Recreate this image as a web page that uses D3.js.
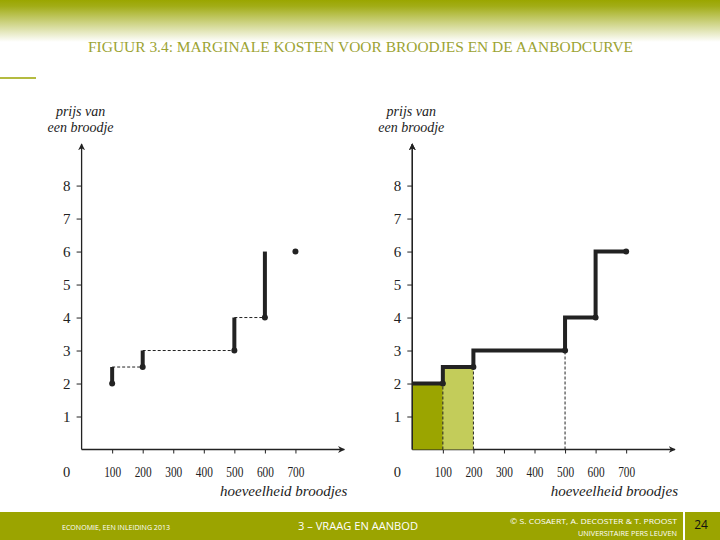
<!DOCTYPE html>
<html>
<head>
<meta charset="utf-8">
<script src="https://cdn.jsdelivr.net/npm/d3@7"></script>
<style>
  body { margin: 0; background: #fff; }
  svg { display: block; }
</style>
</head>
<body>
<div id="graph"></div>
<script>
// data
var quantities = [100, 200, 500, 600, 700];
var marginalCost = [2, 2.5, 3, 4, 6];
var xTickValues = [100, 200, 300, 400, 500, 600, 700];
var yTickValues = [1, 2, 3, 4, 5, 6, 7, 8];
var titleText = "FIGUUR 3.4: MARGINALE KOSTEN VOOR BROODJES EN DE AANBODCURVE";
var yLabelLines = ["prijs van", "een broodje"];
var xLabel = "hoeveelheid broodjes";

var svgWidth = 720, svgHeight = 540;
var olive = "#9ba400";
var ink = "#222";
var serif = "'Liberation Serif', 'DejaVu Serif', serif";

var svg = d3.select("#graph").append("svg")
  .attr("width", svgWidth)
  .attr("height", svgHeight);

var defs = svg.append("defs");
var grad = defs.append("linearGradient")
  .attr("id", "topfade").attr("x1", 0).attr("y1", 0).attr("x2", 0).attr("y2", 1);
grad.append("stop").attr("offset", "0%").attr("stop-color", "#9aa600");
grad.append("stop").attr("offset", "15%").attr("stop-color", "#a2ad17");
grad.append("stop").attr("offset", "100%").attr("stop-color", "#ffffff");

defs.append("marker")
  .attr("id", "arrow")
  .attr("viewBox", "0 0 10 10")
  .attr("refX", 9).attr("refY", 5)
  .attr("markerWidth", 7).attr("markerHeight", 7)
  .attr("markerUnits", "userSpaceOnUse")
  .attr("orient", "auto")
  .append("path")
  .attr("d", "M0,0 L10,5 L0,10 L3,5 Z")
  .attr("fill", ink);

// header
svg.append("rect").attr("x", 0).attr("y", 0).attr("width", svgWidth).attr("height", 42)
  .attr("fill", "url(#topfade)");

svg.append("text")
  .attr("x", 88).attr("y", 52)
  .attr("textLength", 545).attr("lengthAdjust", "spacingAndGlyphs")
  .attr("font-family", serif).attr("font-size", 14.5)
  .attr("fill", "#9ca332")
  .text(titleText);

svg.append("line").attr("x1", 0).attr("x2", 36).attr("y1", 78).attr("y2", 78)
  .attr("stroke", olive).attr("stroke-width", 1.5);

// footer
var footer = svg.append("g");
footer.append("rect").attr("x", 0).attr("y", 512).attr("width", svgWidth).attr("height", 28)
  .attr("fill", olive);
footer.append("line").attr("x1", 684).attr("x2", 684).attr("y1", 512).attr("y2", 540)
  .attr("stroke", "#fff").attr("stroke-width", 2);
footer.append("text").attr("x", 116).attr("y", 530).attr("text-anchor", "middle")
  .attr("font-family", "'Open Sans', sans-serif").attr("font-size", 7)
  .attr("textLength", 108).attr("lengthAdjust", "spacingAndGlyphs")
  .attr("fill", "#fff").text("ECONOMIE, EEN INLEIDING 2013");
footer.append("text").attr("x", 358).attr("y", 530).attr("text-anchor", "middle")
  .attr("font-family", "'Open Sans', sans-serif").attr("font-size", 11)
  .attr("textLength", 120).attr("lengthAdjust", "spacingAndGlyphs")
  .attr("fill", "#fff").text("3 – VRAAG EN AANBOD");
footer.append("text").attr("x", 677).attr("y", 524).attr("text-anchor", "end")
  .attr("font-family", "'Open Sans', sans-serif").attr("font-size", 6.5)
  .attr("textLength", 167).attr("lengthAdjust", "spacingAndGlyphs")
  .attr("fill", "#fff").text("© S. COSAERT, A. DECOSTER & T. PROOST");
footer.append("text").attr("x", 677).attr("y", 536).attr("text-anchor", "end")
  .attr("font-family", "'Open Sans', sans-serif").attr("font-size", 6.5)
  .attr("textLength", 99).attr("lengthAdjust", "spacingAndGlyphs")
  .attr("fill", "#fff").text("UNIVERSITAIRE PERS LEUVEN");
footer.append("text").attr("x", 701).attr("y", 529).attr("text-anchor", "middle")
  .attr("font-family", "'Open Sans', sans-serif").attr("font-size", 12)
  .attr("fill", "#111").text("24");

// shared vertical scale
var yScale = d3.scaleLinear().domain([0, 9.26]).range([449.5, 144]);

function drawPanel(originX) {
  var xScale = d3.scaleLinear().domain([0, 860]).range([originX, originX + 860 * 0.3055]);
  var g = svg.append("g");

  var xAxis = d3.axisBottom(xScale)
    .tickValues(xTickValues)
    .tickSizeInner(4).tickSizeOuter(0)
    .tickPadding(13);
  var gx = g.append("g").attr("transform", "translate(0," + yScale(0) + ")").call(xAxis);
  gx.select(".domain").remove();
  gx.selectAll("line").attr("stroke", ink);
  gx.selectAll("text")
    .attr("font-family", serif).attr("font-size", 14.5).attr("fill", ink)
    .attr("textLength", 17).attr("lengthAdjust", "spacingAndGlyphs");

  var yAxis = d3.axisLeft(yScale)
    .tickValues(yTickValues)
    .tickSizeInner(5).tickSizeOuter(0)
    .tickPadding(6);
  var gy = g.append("g").attr("transform", "translate(" + xScale(0) + ",0)").call(yAxis);
  gy.select(".domain").remove();
  gy.selectAll("line").attr("stroke", ink);
  gy.selectAll("text").attr("font-family", serif).attr("font-size", 15).attr("fill", ink);

  // axis lines with arrows
  g.append("line")
    .attr("x1", xScale(0)).attr("x2", xScale(860))
    .attr("y1", yScale(0)).attr("y2", yScale(0))
    .attr("stroke", ink).attr("stroke-width", 1.3).attr("marker-end", "url(#arrow)");
  g.append("line")
    .attr("x1", xScale(0)).attr("x2", xScale(0))
    .attr("y1", yScale(0)).attr("y2", yScale(9.26))
    .attr("stroke", ink).attr("stroke-width", 1.3).attr("marker-end", "url(#arrow)");

  // origin label
  g.append("text")
    .attr("x", xScale(0) - 15).attr("y", yScale(0) + 17).attr("dy", "0.71em")
    .attr("text-anchor", "middle")
    .attr("font-family", serif).attr("font-size", 14.5).attr("fill", ink)
    .text("0");

  // axis titles
  g.selectAll(".ylab").data(yLabelLines).enter().append("text")
    .attr("x", xScale(0) - 1)
    .attr("y", function(d, i) { return 116 + i * 16; })
    .attr("text-anchor", "middle")
    .attr("font-family", serif).attr("font-style", "italic").attr("font-size", 14)
    .attr("fill", ink)
    .text(function(d) { return d; });

  g.append("text")
    .attr("x", xScale(860) + 3).attr("y", 496)
    .attr("text-anchor", "end")
    .attr("font-family", serif).attr("font-style", "italic").attr("font-size", 15)
    .attr("fill", ink)
    .text(xLabel);

  return { g: g, x: xScale };
}

// left panel: marginal cost points
var left = drawPanel(81.6);
var idx = d3.range(quantities.length - 1);

left.g.selectAll(".dash").data(idx.slice(0, 3)).enter().append("line")
  .attr("x1", function(i) { return left.x(quantities[i]); })
  .attr("x2", function(i) { return left.x(quantities[i + 1]); })
  .attr("y1", function(i) { return yScale(marginalCost[i + 1]); })
  .attr("y2", function(i) { return yScale(marginalCost[i + 1]); })
  .attr("stroke", ink).attr("stroke-width", 1).attr("stroke-dasharray", "3,2");

left.g.selectAll(".jump").data(idx).enter().append("line")
  .attr("x1", function(i) { return left.x(quantities[i]); })
  .attr("x2", function(i) { return left.x(quantities[i]); })
  .attr("y1", function(i) { return yScale(marginalCost[i]); })
  .attr("y2", function(i) { return yScale(marginalCost[i + 1]); })
  .attr("stroke", ink).attr("stroke-width", 4);

left.g.selectAll(".dot").data(quantities).enter().append("circle")
  .attr("cx", function(d) { return left.x(d); })
  .attr("cy", function(d, i) { return yScale(marginalCost[i]); })
  .attr("r", 3).attr("fill", ink);

// right panel: supply curve
var right = drawPanel(412.3);
var fills = ["#9ba500", "#c3cc5a"];

right.g.selectAll(".area").data([0, 1]).enter().append("rect")
  .attr("x", function(i) { return right.x(i === 0 ? 0 : quantities[i - 1]); })
  .attr("width", function(i) { return right.x(quantities[i]) - right.x(i === 0 ? 0 : quantities[i - 1]); })
  .attr("y", function(i) { return yScale(marginalCost[i]); })
  .attr("height", function(i) { return yScale(0) - yScale(marginalCost[i]); })
  .attr("fill", function(i) { return fills[i]; });

right.g.selectAll(".vdash").data([0, 1, 2]).enter().append("line")
  .attr("x1", function(i) { return right.x(quantities[i]); })
  .attr("x2", function(i) { return right.x(quantities[i]); })
  .attr("y1", yScale(0))
  .attr("y2", function(i) { return yScale(marginalCost[i]); })
  .attr("stroke", ink).attr("stroke-width", 1).attr("stroke-dasharray", "3,2");

var stepPoints = [[0, marginalCost[0]]].concat(quantities.map(function(q, i) { return [q, marginalCost[i]]; }));
var stepLine = d3.line()
  .x(function(d) { return right.x(d[0]); })
  .y(function(d) { return yScale(d[1]); })
  .curve(d3.curveStepBefore);

right.g.append("path")
  .attr("d", stepLine(stepPoints))
  .attr("fill", "none").attr("stroke", ink).attr("stroke-width", 4);

right.g.selectAll(".dot").data(quantities).enter().append("circle")
  .attr("cx", function(d) { return right.x(d); })
  .attr("cy", function(d, i) { return yScale(marginalCost[i]); })
  .attr("r", 3).attr("fill", ink);

// redraw the y axis line on top of the filled areas
right.g.append("line")
  .attr("x1", right.x(0)).attr("x2", right.x(0))
  .attr("y1", yScale(0)).attr("y2", yScale(9.26))
  .attr("stroke", ink).attr("stroke-width", 1.3).attr("marker-end", "url(#arrow)");
</script>
</body>
</html>
